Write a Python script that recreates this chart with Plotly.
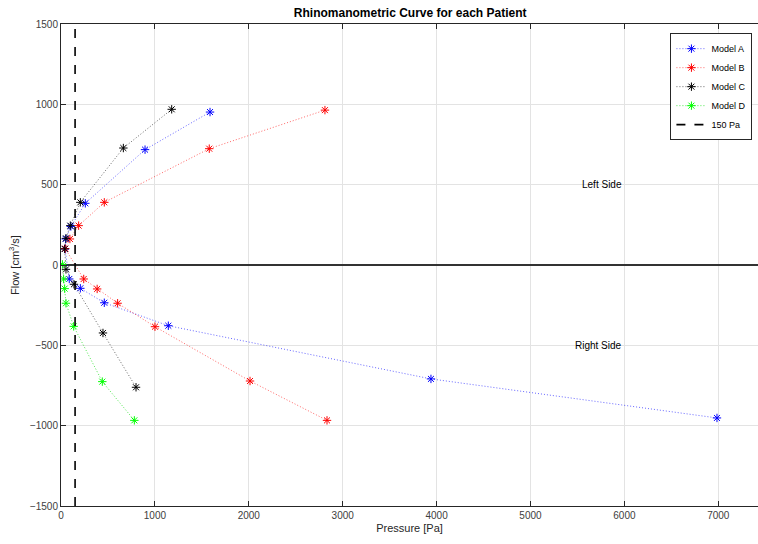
import plotly.graph_objects as go

# Model A (blue)
a_pressure = [1587, 895, 259, 105, 50, 43, 88, 206, 461, 1143, 3940, 6986]
a_flow = [952, 718, 384, 240, 162, 100, -87, -145, -235, -378, -709, -952]
# Model B (red)
b_pressure = [2811, 1579, 461, 188, 95, 45, 242, 385, 603, 1001, 2013, 2833]
b_flow = [964, 724, 390, 245, 162, 102, -87, -149, -238, -384, -722, -967]
# Model C (black)
c_pressure = [1179, 664, 206, 99, 53, 39, 53, 138, 447, 799]
c_flow = [969, 728, 390, 245, 166, 100, -27, -120, -423, -761]
# Model D (green)
d_pressure = [15, 28, 39, 53, 135, 440, 781]
d_flow = [4, -87, -147, -238, -382, -726, -967]

ref_pressure = 150
x_ticks = [0, 1000, 2000, 3000, 4000, 5000, 6000, 7000]
y_ticks = [-1500, -1000, -500, 0, 500, 1000, 1500]

series = [
    ("Model A", a_pressure, a_flow, "rgb(0,0,255)", "rgba(0,0,255,0.6)"),
    ("Model B", b_pressure, b_flow, "rgb(255,0,0)", "rgba(255,0,0,0.6)"),
    ("Model C", c_pressure, c_flow, "rgb(0,0,0)", "rgba(0,0,0,0.6)"),
    ("Model D", d_pressure, d_flow, "rgb(0,255,0)", "rgba(0,220,0,0.7)"),
]

fig = go.Figure()
for name, xs, ys, col, lcol in series:
    fig.add_trace(go.Scatter(
        x=xs, y=ys, name=name, mode="lines+markers",
        line=dict(color=lcol, width=1, dash="1px,2px"),
        marker=dict(symbol="asterisk-open", size=7, color=col,
                    line=dict(color=col, width=1)),
    ))

fig.add_trace(go.Scatter(
    x=[ref_pressure, ref_pressure], y=[-1500, 1500], name="150 Pa",
    mode="lines", line=dict(color="black", width=1.6, dash="dash"),
))

fig.add_annotation(x=6000, y=500, text="Left Side", showarrow=False,
                   xanchor="right", yanchor="middle",
                   font=dict(size=10, color="black"))
fig.add_annotation(x=6000, y=-500, text="Right Side", showarrow=False,
                   xanchor="right", yanchor="middle",
                   font=dict(size=10, color="black"))

axis_common = dict(
    showgrid=True, gridcolor="#e3e3e3", gridwidth=1,
    showline=True, linecolor="#262626", linewidth=1,
    ticks="inside", ticklen=5, tickcolor="#262626",
    tickfont=dict(size=10, color="#404040"),
)

fig.update_layout(
    width=758, height=544,
    margin=dict(l=61, r=0, t=24, b=38),
    paper_bgcolor="white", plot_bgcolor="white",
    font=dict(family="Liberation Sans, Arial, sans-serif", color="#262626"),
    title=dict(text="<b>Rhinomanometric Curve for each Patient</b>",
               x=0.501, xanchor="center", xref="paper",
               y=0.976, yref="container", yanchor="middle",
               font=dict(size=12, color="black")),
    xaxis=dict(range=[0, 7423], tickvals=x_ticks, zeroline=False, mirror="ticks",
               title=dict(text="Pressure [Pa]", font=dict(size=11, color="#262626"), standoff=4),
               **axis_common),
    yaxis=dict(range=[-1500, 1500], tickvals=y_ticks, mirror=False,
               zeroline=True, zerolinecolor="#333333", zerolinewidth=1.5,
               title=dict(text="Flow [cm<sup>3</sup>/s]", font=dict(size=11, color="#262626"), standoff=8),
               **axis_common),
    legend=dict(x=0.992, y=0.981, xanchor="right", yanchor="top",
                bgcolor="white", bordercolor="#262626", borderwidth=1,
                font=dict(size=9, color="black"),
                itemwidth=30, tracegroupgap=0),
    showlegend=True,
)

fig.write_html(
    "out.html",
    config={"displayModeBar": False},
    post_script="document.body.style.margin='0';document.body.style.overflow='hidden';",
)
